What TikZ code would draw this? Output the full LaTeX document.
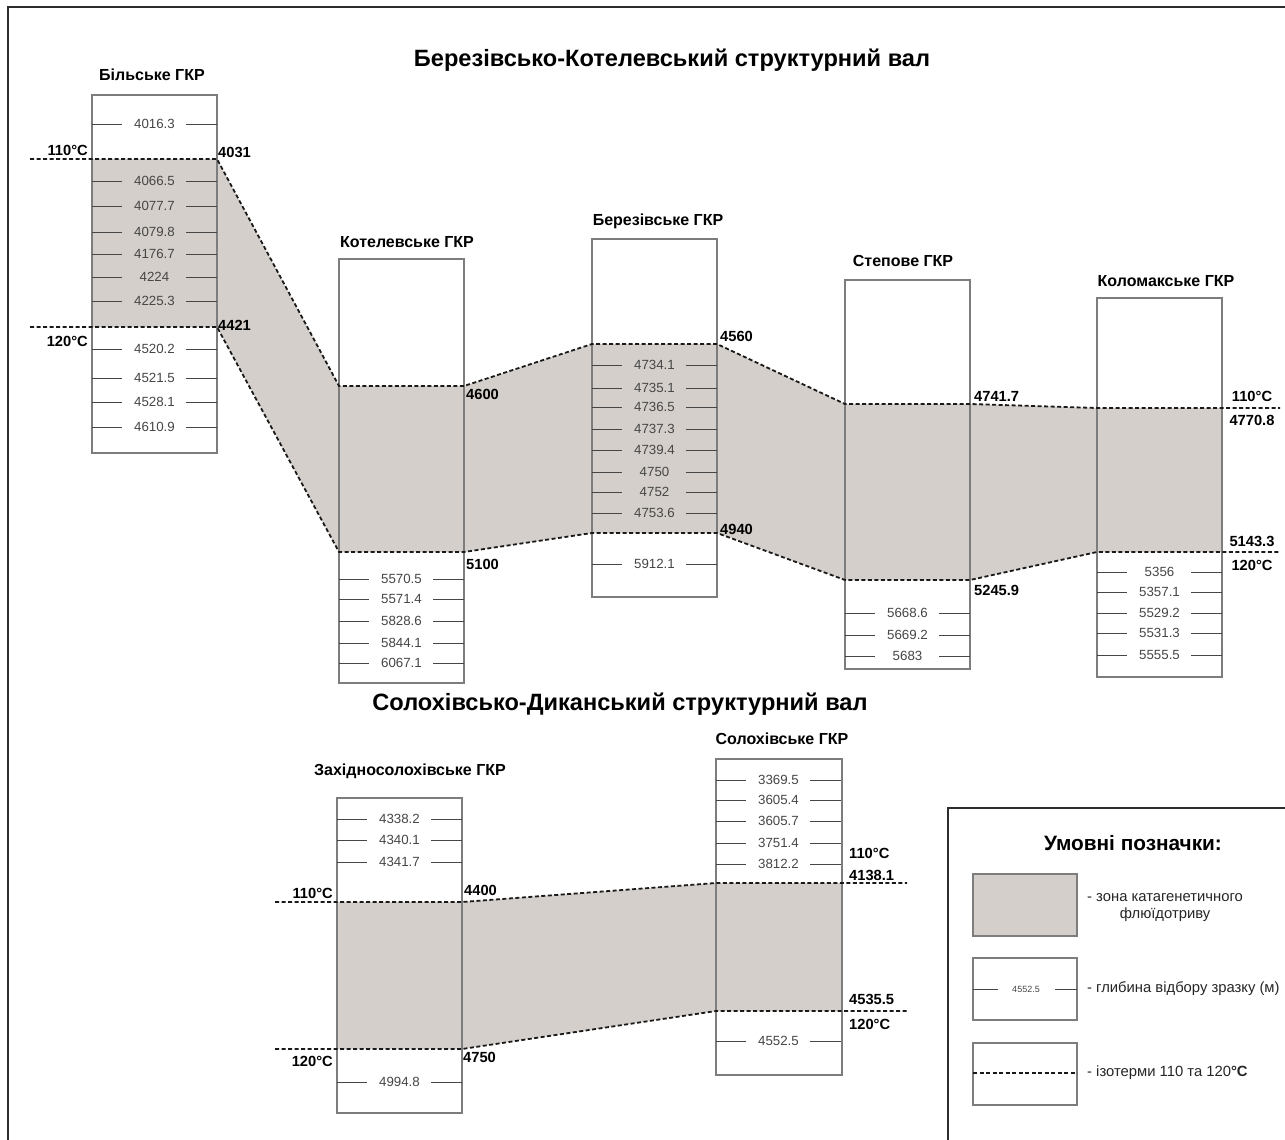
\documentclass[tikz,border=0pt]{standalone}
\usepackage{fontspec}
\setmainfont{Liberation Sans}
\definecolor{shade}{RGB}{212,207,202}
\definecolor{numc}{RGB}{70,70,70}
\definecolor{boxc}{RGB}{125,125,125}
\definecolor{framec}{RGB}{45,45,45}
\tikzset{
  num/.style={font=\fontsize{13.3}{15}\selectfont, text=numc, inner sep=0pt},
  smallnum/.style={font=\fontsize{9}{11}\selectfont, text=numc, inner sep=0pt},
  lab/.style={font=\bfseries\fontsize{14.7}{17}\selectfont, inner sep=0pt},
  coltitle/.style={font=\bfseries\fontsize{16}{18}\selectfont, inner sep=0pt},
  bigtitle/.style={font=\bfseries\fontsize{23.6}{27}\selectfont, inner sep=0pt},
  legtitle/.style={font=\bfseries\fontsize{20.8}{24}\selectfont, inner sep=0pt},
  legtext/.style={font=\fontsize{14.8}{17}\selectfont, text=black!85, inner sep=0pt},
  colbox/.style={draw=boxc, line width=1.2pt},
  tick/.style={draw=numc, line width=0.9pt},
  iso/.style={draw=black!90, line width=1.8pt, dash pattern=on 4pt off 2.5pt},
  zone/.style={fill=shade},
  frameline/.style={draw=framec, line width=2pt},
}
\newcommand\samples[3]{%
  \foreach \y/\t [count=\i] in {#3} {%
    \draw[tick] (#2,\y) -- ++(30,0);
    \draw[tick] (#2+125,\y) -- ++(-31,0);
    \node[num] (#1\i) at (#2+62.5,\y) {\t};
  }%
}
\begin{document}
\begin{tikzpicture}[x=1pt,y=-1pt]
\useasboundingbox (0,0) rectangle (1285,1140);
\fill[white] (0,0) rectangle (1285,1140);

% outer frame (right and bottom edges lie outside the picture)
\draw[frameline] (1290,7) -- (8,7) -- (8,1145);

% titles
\node[bigtitle] (t1) at (672,60) {Березівсько-Котелевський структурний вал};
\node[bigtitle] (t2) at (620,704) {Солохівсько-Диканський структурний вал};

% column boxes (white)
\fill[white] (92,95) rectangle (217,453);
\fill[white] (339,259) rectangle (464,683);
\fill[white] (592,239) rectangle (717,597);
\fill[white] (845,280) rectangle (970,669);
\fill[white] (1097,298) rectangle (1222,677);
\fill[white] (337,798) rectangle (462,1113);
\fill[white] (716,759) rectangle (842,1075);

% isotherm corner coordinates
\coordinate (b1) at (217,159); \coordinate (b2) at (217,327);
\coordinate (k1l) at (339,386); \coordinate (k1r) at (464,386);
\coordinate (k2l) at (339,552); \coordinate (k2r) at (464,552);
\coordinate (z1l) at (592,344); \coordinate (z1r) at (717,344);
\coordinate (z2l) at (592,533); \coordinate (z2r) at (717,533);
\coordinate (s1l) at (845,404); \coordinate (s1r) at (970,404);
\coordinate (s2l) at (845,580); \coordinate (s2r) at (970,580);
\coordinate (m1l) at (1097,408); \coordinate (m1r) at (1222,408);
\coordinate (m2l) at (1097,552); \coordinate (m2r) at (1222,552);
\coordinate (bL1) at (30,159); \coordinate (bL2) at (30,327);
\coordinate (bB1) at (92,159); \coordinate (bB2) at (92,327);
\coordinate (mR1) at (1280,408); \coordinate (mR2) at (1280,552);

\coordinate (w1l) at (337,902); \coordinate (w1r) at (462,902);
\coordinate (w2l) at (337,1049); \coordinate (w2r) at (462,1049);
\coordinate (o1l) at (716,883); \coordinate (o1r) at (842,883);
\coordinate (o2l) at (716,1011); \coordinate (o2r) at (842,1011);
\coordinate (wL1) at (275,902); \coordinate (wL2) at (275,1049);
\coordinate (oR1) at (907,883); \coordinate (oR2) at (907,1011);

% zones
\fill[zone] (bB1) -- (b1) -- (k1l) -- (k1r) -- (z1l) -- (z1r) -- (s1l) -- (s1r) -- (m1l) -- (m1r)
  -- (m2r) -- (m2l) -- (s2r) -- (s2l) -- (z2r) -- (z2l) -- (k2r) -- (k2l) -- (b2) -- (bB2) -- cycle;
\fill[zone] (w1l) -- (w1r) -- (o1l) -- (o1r) -- (o2r) -- (o2l) -- (w2r) -- (w2l) -- cycle;

% box outlines
\draw[colbox] (92,95) rectangle (217,453);
\draw[colbox] (339,259) rectangle (464,683);
\draw[colbox] (592,239) rectangle (717,597);
\draw[colbox] (845,280) rectangle (970,669);
\draw[colbox] (1097,298) rectangle (1222,677);
\draw[colbox] (337,798) rectangle (462,1113);
\draw[colbox] (716,759) rectangle (842,1075);

% column titles
\node[coltitle] (h1) at (152,75) {Більське ГКР};
\node[coltitle] (h2) at (407,242) {Котелевське ГКР};
\node[coltitle] (h3) at (658,221) {Березівське ГКР};
\node[coltitle] (h4) at (903,261) {Степове ГКР};
\node[coltitle] (h5) at (1166,281) {Коломакське ГКР};
\node[coltitle] (h6) at (410,771) {Західносолохівське ГКР};
\node[coltitle] (h7) at (782,739) {Солохівське ГКР};

% samples
\samples{bil}{92}{124/4016.3,181/4066.5,206/4077.7,232/4079.8,254/4176.7,277/4224,301/4225.3,349/4520.2,378/4521.5,402/4528.1,427/4610.9}
\samples{kot}{339}{579/5570.5,599/5571.4,621/5828.6,643/5844.1,663/6067.1}
\samples{ber}{592}{365/4734.1,388/4735.1,407/4736.5,429/4737.3,450/4739.4,472/4750,492/4752,513/4753.6,564/5912.1}
\samples{ste}{845}{613/5668.6,635/5669.2,656/5683}
\samples{kol}{1097}{572/5356,592/5357.1,613/5529.2,633/5531.3,655/5555.5}
\samples{zah}{337}{819/4338.2,840/4340.1,862/4341.7,1082/4994.8}
\samples{sol}{716}{780/3369.5,800/3605.4,821/3605.7,843/3751.4,864/3812.2,1041/4552.5}

% isotherms
\draw[iso] (bL1) -- (b1) -- (k1l) -- (k1r) -- (z1l) -- (z1r) -- (s1l) -- (s1r) -- (m1l) -- (mR1);
\draw[iso] (bL2) -- (b2) -- (k2l) -- (k2r) -- (z2l) -- (z2r) -- (s2l) -- (s2r) -- (m2l) -- (mR2);
\draw[iso] (wL1) -- (w1r) -- (o1l) -- (oR1);
\draw[iso] (wL2) -- (w2r) -- (o2l) -- (oR2);

% isotherm labels
\node[lab, anchor=east] (l1) at (88,150) {110°C};
\node[lab, anchor=west] (l2) at (218,152) {4031};
\node[lab, anchor=west] (l3) at (218,325) {4421};
\node[lab, anchor=east] (l4) at (88,341) {120°C};
\node[lab, anchor=west] (l5) at (466,394) {4600};
\node[lab, anchor=west] (l6) at (466,564) {5100};
\node[lab, anchor=west] (l7) at (720,336) {4560};
\node[lab, anchor=west] (l8) at (720,529) {4940};
\node[lab, anchor=west] (l9) at (974,396) {4741.7};
\node[lab, anchor=west] (l10) at (974,590) {5245.9};
\node[lab] (l11) at (1252,396) {110°C};
\node[lab] (l12) at (1252,420) {4770.8};
\node[lab] (l13) at (1252,541) {5143.3};
\node[lab] (l14) at (1252,565) {120°C};
\node[lab, anchor=east] (l15) at (333,893) {110°C};
\node[lab, anchor=west] (l16) at (464,890) {4400};
\node[lab, anchor=east] (l17) at (333,1061) {120°C};
\node[lab, anchor=west] (l18) at (463,1057) {4750};
\node[lab, anchor=west] (l19) at (849,853) {110°C};
\node[lab, anchor=west] (l20) at (849,875) {4138.1};
\node[lab, anchor=west] (l21) at (849,999) {4535.5};
\node[lab, anchor=west] (l22) at (849,1024) {120°C};

% legend
\draw[frameline] (1290,808) -- (948,808) -- (948,1145);
\node[legtitle] (lg) at (1133,843) {Умовні позначки:};
\draw[zone, draw=boxc, line width=1.2pt] (973,874) rectangle (1077,936);
\node[legtext, anchor=west] (lg1a) at (1087,898) {- зона катагенетичного};
\node[legtext] (lg1b) at (1165,915) {флюїдотриву};
\draw[colbox] (973,958) rectangle (1077,1020);
\draw[tick] (973,989) -- (998,989);
\draw[tick] (1055,989) -- (1077,989);
\node[smallnum] (lgn) at (1026,989) {4552.5};
\node[legtext, anchor=west] (lg2) at (1087,989) {- глибина відбору зразку (м)};
\draw[colbox] (973,1043) rectangle (1077,1105);
\coordinate (lgd1) at (973,1073); \coordinate (lgd2) at (1077,1073);
\draw[iso] (lgd1) -- (lgd2);
\node[legtext, anchor=west] (lg3) at (1087,1073) {- ізотерми 110 та 120\textbf{°C}};
\end{tikzpicture}
\end{document}
